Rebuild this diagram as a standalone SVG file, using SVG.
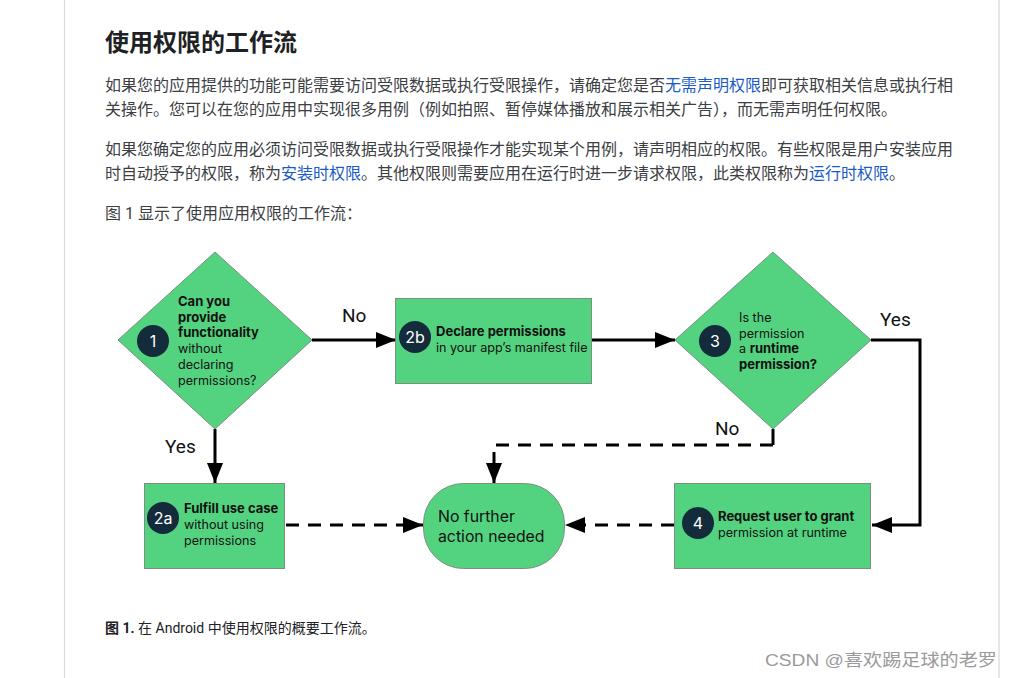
<svg xmlns="http://www.w3.org/2000/svg" width="1010" height="678" viewBox="0 0 1010 678">
<defs>
<style>
.page{fill:#ffffff}
.border{stroke:#d9d9d9;stroke-width:1.2}
.h1{font-family:Roboto,"Noto Sans CJK SC",sans-serif;font-size:24px;font-weight:bold;fill:#202124}
.p{font-family:Roboto,"Noto Sans CJK SC",sans-serif;font-size:16px;fill:#3c4043}
.link{fill:#1a5bc4}
.cap{font-family:Roboto,"Noto Sans CJK SC",sans-serif;font-size:14px;fill:#202124}
.wm{font-family:"Liberation Sans","Noto Sans CJK SC",sans-serif;font-size:17px;fill:#9a9a9a}
.shape{fill:#53d380;stroke:#7a8f80;stroke-width:1}
.badge{fill:#132b3b}
.bnum{font-family:Inter,"Open Sans",sans-serif;font-size:16px;fill:#ffffff;text-anchor:middle}
.t{font-family:Inter,"Open Sans",sans-serif;font-size:12.6px;fill:#111111}
.b{font-weight:bold;font-size:13px}
.big{font-family:Inter,"Open Sans",sans-serif;font-size:15.8px;fill:#111111}
.lbl{font-family:Roboto,"Liberation Sans",sans-serif;font-size:19px;fill:#111111}
.solid{fill:none;stroke:#000;stroke-width:3}
.dash{fill:none;stroke:#000;stroke-width:3;stroke-dasharray:13 9}
</style>
<marker id="ah" viewBox="0 0 20 16" refX="20" refY="8" markerWidth="20" markerHeight="16" markerUnits="userSpaceOnUse" orient="auto">
<path d="M0,0 L20,8 L0,16 z" fill="#000"/>
</marker>
</defs>
<rect class="page" x="0" y="0" width="1010" height="678"/>
<line class="border" x1="64.5" y1="0" x2="64.5" y2="678"/>
<line class="border" x1="999" y1="0" x2="999" y2="678"/>

<g id="article-text">
<text class="h1" x="105" y="51">使用权限的工作流</text>
<text class="p" x="105" y="91">如果您的应用提供的功能可能需要访问受限数据或执行受限操作，请确定您是否<tspan class="link">无需声明权限</tspan>即可获取相关信息或执行相</text>
<text class="p" x="105" y="115">关操作。您可以在您的应用中实现很多用例（例如拍照、暂停媒体播放和展示相关广告），而无需声明任何权限。</text>
<text class="p" x="105" y="155">如果您确定您的应用必须访问受限数据或执行受限操作才能实现某个用例，请声明相应的权限。有些权限是用户安装应用</text>
<text class="p" x="105" y="179">时自动授予的权限，称为<tspan class="link">安装时权限</tspan>。其他权限则需要应用在运行时进一步请求权限，此类权限称为<tspan class="link">运行时权限</tspan>。</text>
<text class="p" x="105" y="219">图 1 显示了使用应用权限的工作流：</text>
<text class="cap" x="105" y="633"><tspan font-weight="bold">图 1.</tspan> 在 Android 中使用权限的概要工作流。</text>
<text class="wm" x="765" y="666" textLength="232" lengthAdjust="spacingAndGlyphs">CSDN @喜欢踢足球的老罗</text>
</g>

<g id="connectors">
<line class="solid" x1="312" y1="340" x2="396" y2="340" marker-end="url(#ah)"/>
<line class="solid" x1="592" y1="340" x2="675" y2="340" marker-end="url(#ah)"/>
<line class="solid" x1="215" y1="429" x2="215" y2="483" marker-end="url(#ah)"/>
<polyline class="solid" points="871,340 920,340 920,525 872,525" marker-end="url(#ah)"/>
<line class="solid" x1="773" y1="429" x2="773" y2="445"/>
<polyline class="dash" points="773,445 494,445 494,483" marker-end="url(#ah)"/>
<line class="dash" x1="674" y1="525" x2="565" y2="525" marker-end="url(#ah)"/>
<line class="dash" x1="286" y1="525" x2="423" y2="525" marker-end="url(#ah)"/>
<text class="lbl" x="342" y="322">No</text>
<text class="lbl" x="165" y="453">Yes</text>
<text class="lbl" x="880" y="326">Yes</text>
<text class="lbl" x="715" y="435">No</text>
</g>

<g id="node-1">
<polygon class="shape" points="215,252 312,340 215,429 118,340"/>
<circle class="badge" cx="153" cy="341" r="16"/>
<text class="bnum" x="153" y="347">1</text>
<text class="t" x="178" y="306"><tspan class="b">Can you</tspan><tspan class="b" x="178" dy="15.7">provide</tspan><tspan class="b" x="178" dy="15.7">functionality</tspan><tspan x="178" dy="15.7">without</tspan><tspan x="178" dy="15.7">declaring</tspan><tspan x="178" dy="15.7">permissions?</tspan></text>
</g>

<g id="node-2b">
<rect class="shape" x="395.5" y="298.5" width="196" height="85"/>
<circle class="badge" cx="415" cy="337" r="16"/>
<text class="bnum" x="415" y="343">2b</text>
<text class="t" x="436" y="336"><tspan class="b">Declare permissions</tspan><tspan x="436" dy="16">in your app’s manifest file</tspan></text>
</g>

<g id="node-3">
<polygon class="shape" points="773,252 871,340 773,429 675,340"/>
<circle class="badge" cx="715" cy="341" r="16"/>
<text class="bnum" x="715" y="347">3</text>
<text class="t" x="739" y="322">Is the<tspan x="739" dy="15.7">permission</tspan><tspan x="739" dy="15.7">a <tspan class="b">runtime</tspan></tspan><tspan class="b" x="739" dy="15.7">permission?</tspan></text>
</g>

<g id="node-2a">
<rect class="shape" x="144.5" y="483.5" width="140" height="85"/>
<circle class="badge" cx="163" cy="518" r="16"/>
<text class="bnum" x="163" y="524">2a</text>
<text class="t" x="184" y="513"><tspan class="b">Fulfill use case</tspan><tspan x="184" dy="16">without using</tspan><tspan x="184" dy="16">permissions</tspan></text>
</g>

<g id="node-end">
<rect class="shape" x="423.5" y="483.5" width="141" height="85" rx="40" ry="40"/>
<text class="big" x="438" y="522">No further<tspan x="438" dy="20">action needed</tspan></text>
</g>

<g id="node-4">
<rect class="shape" x="674.5" y="483.5" width="196" height="85"/>
<circle class="badge" cx="698" cy="523" r="16"/>
<text class="bnum" x="698" y="529">4</text>
<text class="t" x="718" y="521"><tspan class="b">Request user to grant</tspan><tspan x="718" dy="16">permission at runtime</tspan></text>
</g>
</svg>
